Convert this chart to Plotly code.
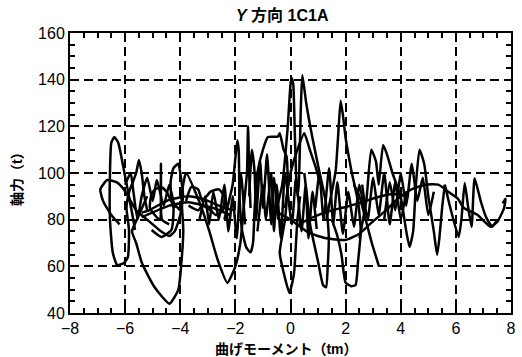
import plotly.graph_objects as go

# ---- data ----
loop_a_x = [-6.2, -6.5, -6.8, -6.9, -6.65, -6.3, -6.05, -5.8, -5.6, -5.3, -5.0, -4.7, -4.4, -4.2, -4.0, -3.9, -4.0, -4.07, -4.25, -4.35, -4.3, -4.0]
loop_a_y = [78, 82, 88, 93, 97, 96, 93, 88, 84, 81, 78, 75, 73, 75, 82, 90, 100, 104, 102, 96, 88, 84]

loop_b_x = [-5.64, -5.75, -6.04, -6.25, -6.39, -6.5, -6.55, -6.55, -6.45, -6.29, -6.04, -5.9, -5.86, -5.95, -5.85, -5.6, -5.5, -5.4, -5.3, -5.2]
loop_b_y = [75.6, 83, 101, 113, 115.4, 113, 100, 80, 66, 60.6, 61.4, 64, 75.6, 85, 92, 100, 105.6, 100, 90, 84]

loop_c_x = [-5.2, -5.5, -5.75, -5.6, -5.39, -4.93, -4.39, -4.07, -3.96, -3.89, -3.95, -3.79, -3.32, -2.96, -2.64, -2.29, -2.0, -1.82, -1.7, -1.58, -1.54, -1.5, -1.45]
loop_c_y = [90, 82, 75, 70, 61.4, 51, 44, 50, 61.4, 75.6, 90, 100, 88, 75.6, 62.7, 52.9, 60, 70, 85, 100, 120, 100, 85]

loop_d_x = [-5.04, -4.68, -4.32, -4.25, -4.5, -4.68, -4.9, -5.04, -5.1, -4.75, -4.7, -4.66, -4.4]
loop_d_y = [75.6, 72.6, 75.6, 85.4, 92, 94, 93, 91, 85, 80, 104, 80, 78]

arch_e1_x = [-5.4, -5.14, -4.43, -3.71, -3.2, -2.79, -2.4, -2.0]
arch_e1_y = [83, 84, 88.4, 90, 89, 87, 85, 84]
arch_e2_x = [-5.4, -4.4, -3.7, -2.8, -2.2]
arch_e2_y = [81, 86, 87.5, 85, 82]

loop_q_x = [-3.79, -3.6, -3.35, -3.2, -2.9, -2.6, -2.4, -2.45, -2.7, -2.9, -3.2, -3.35, -3.7]
loop_q_y = [88, 94, 93, 88, 92, 93, 90, 84, 82, 84, 86, 84, 86]

loop_f_x = [-2.4, -2.1, -1.93, -1.88, -1.85, -1.75, -1.6, -1.45, -1.36, -1.3, -1.2, -1.0, -0.82, -0.46, -0.39, -0.25, -0.14, -0.1, -0.2, -0.36, -0.39, -0.2, -0.04, 0.1, 0.14, 0.25, 0.35]
loop_f_y = [80, 95, 114, 110, 90, 75, 68, 66, 70, 85, 100, 110, 115.4, 115.6, 117, 110, 107, 95, 80, 69, 65.7, 55, 48.6, 55, 58.4, 79.8, 90]

loop_g_x = [-0.6, -0.3, -0.1, 0.0, 0.04, 0.1, 0.15, 0.2, 0.25, 0.3, 0.38, 0.43, 0.57, 0.79, 1.04, 1.29, 1.39, 1.35, 1.29, 1.18, 1.0, 0.85, 0.71, 0.6, 0.5]
loop_g_y = [80, 95, 120, 138, 140.7, 138, 120, 100, 90, 95, 130, 142, 130, 115.4, 101, 87, 72.6, 60, 51, 52, 62, 70, 78, 90, 100]

peak_h_x = [-0.2, 0.0, 0.25, 0.5, 0.7, 0.9, 1.1]
peak_h_y = [85, 100, 110, 117, 110, 103, 95]

loop_i_x = [1.3, 1.5, 1.64, 1.75, 1.82, 1.9, 2.0, 2.21, 2.46, 2.55, 2.45, 2.36, 2.2, 2.0, 1.85, 1.7, 1.5]
loop_i_y = [80, 92, 101, 120, 131, 125, 115, 101, 87, 75, 62, 52, 51.5, 53, 65, 73, 80]

loop_j_x = [2.5, 2.75, 2.93, 3.1, 3.2, 3.36, 3.5, 3.7, 4.0, 4.2, 4.32, 4.45, 4.55, 4.68, 4.85, 5.0, 5.2, 5.32, 5.4, 5.5, 5.6]
loop_j_y = [72, 88, 110, 105, 95, 112, 108, 100, 89.7, 75, 68.3, 75, 95, 110, 104, 90, 75, 64.9, 72, 85, 95]

line_k_x = [2.3, 2.5, 2.75, 2.95, 3.21]
line_k_y = [95, 90, 79, 70, 60]

bowl_l_x = [-0.6, 0.0, 0.68, 1.3, 2.0, 2.5, 2.93, 3.46, 3.9, 4.39, 4.9, 5.36, 5.79, 6.07, 6.29, 6.79, 7.25, 7.5, 7.75, 7.8, 7.7]
bowl_l_y = [84, 80, 74.3, 72, 71.3, 74, 78.6, 84, 89, 93, 95, 95, 91.4, 89, 85, 82, 77, 79, 85, 89, 87]

arc_m_x = [0.3, 0.8, 1.5, 2.0, 2.6, 3.18, 3.7, 4.3]
arc_m_y = [78, 81, 84, 85.4, 87.5, 89.7, 91, 90]

loop_n_x = [5.6, 5.8, 6.1, 6.2, 6.32, 6.45, 6.57, 6.68, 6.9, 7.1, 7.32, 7.5]
loop_n_y = [95, 85, 72.6, 80, 95.7, 85, 77, 97.8, 88, 81, 77, 80]

zig_o_x = [-1.2, -1.0, -0.9, -0.7, -0.6, -0.5, -0.35, -0.2, 0.05, 0.2, 0.4, 0.55, 0.65, 0.8, 0.95]
zig_o_y = [75, 95, 80, 100, 75, 95, 72, 100, 78, 98, 75, 95, 72, 92, 76]

zig_p_x = [2.6, 2.8, 3.0, 3.2, 3.4, 3.6, 3.8, 4.0, 4.2]
zig_p_y = [95, 80, 98, 82, 100, 78, 96, 80, 92]

zig_r_x = [-6.0, -5.8, -5.7, -5.55, -5.4, -5.2, -5.0, -4.85, -4.6, -4.4, -4.2]
zig_r_y = [95, 100, 92, 80, 90, 98, 88, 97, 86, 95, 85]

zig_s_x = [-3.3, -3.1, -2.95, -2.8, -2.6, -2.4, -2.25, -2.1, -1.95, -1.8, -1.65]
zig_s_y = [80, 90, 78, 92, 80, 95, 75, 90, 72, 100, 78]

zig_t_x = [-1.5, -1.4, -1.3, -1.25, -1.1, -1.0, -0.85, -0.7, -0.6, -0.45]
zig_t_y = [90, 110, 100, 80, 105, 85, 108, 78, 98, 80]

zig_u_x = [0.9, 1.05, 1.2, 1.4, 1.55, 1.7, 1.9, 2.1, 2.3, 2.5, 2.7]
zig_u_y = [85, 100, 80, 102, 78, 96, 74, 92, 77, 95, 82]

zig_v_x = [3.4, 3.6, 3.8, 4.0, 4.2, 4.4, 4.6, 4.8, 5.0, 5.2]
zig_v_y = [80, 96, 84, 100, 86, 104, 88, 98, 82, 92]

series = [
    (loop_a_x, loop_a_y), (loop_b_x, loop_b_y), (loop_c_x, loop_c_y),
    (loop_d_x, loop_d_y), (arch_e1_x, arch_e1_y), (arch_e2_x, arch_e2_y),
    (loop_q_x, loop_q_y), (loop_f_x, loop_f_y), (loop_g_x, loop_g_y),
    (peak_h_x, peak_h_y), (loop_i_x, loop_i_y), (loop_j_x, loop_j_y),
    (line_k_x, line_k_y), (bowl_l_x, bowl_l_y), (arc_m_x, arc_m_y),
    (loop_n_x, loop_n_y), (zig_o_x, zig_o_y), (zig_p_x, zig_p_y),
    (zig_r_x, zig_r_y), (zig_s_x, zig_s_y), (zig_t_x, zig_t_y),
    (zig_u_x, zig_u_y), (zig_v_x, zig_v_y),
]

x_ticks = [-8, -6, -4, -2, 0, 2, 4, 6, 8]
y_ticks = [40, 60, 80, 100, 120, 140, 160]

fig = go.Figure()
for sx, sy in series:
    fig.add_trace(go.Scatter(
        x=sx, y=sy, mode="lines",
        line=dict(color="black", width=2.5, shape="spline", smoothing=0.5),
        showlegend=False, hoverinfo="skip",
    ))

axis_common = dict(
    showline=True, linecolor="black", linewidth=2, mirror="ticks",
    ticks="inside", ticklen=6, tickwidth=1.5, tickcolor="black",
    showgrid=True, gridcolor="black", gridwidth=1.8, griddash="9px,5px",
    zeroline=False,
    tickfont=dict(family="Liberation Sans, Arial, sans-serif", size=16, color="black"),
)

fig.update_xaxes(range=[-8, 8], tickvals=x_ticks,
                 minor=dict(dtick=0.5, ticks="inside", ticklen=5, tickwidth=1.5,
                            tickcolor="black", showgrid=False),
                 **axis_common)
fig.update_yaxes(range=[40, 160], tickvals=y_ticks,
                 minor=dict(dtick=5, ticks="inside", ticklen=5, tickwidth=1.5,
                            tickcolor="black", showgrid=False),
                 **axis_common)

jp = "Liberation Sans, Noto Sans CJK JP, sans-serif"
fig.update_layout(
    width=522, height=357,
    margin=dict(l=70, r=6, t=33, b=44),
    paper_bgcolor="white", plot_bgcolor="white",
    annotations=[
        dict(text="<b><i>Y</i> 方向 1C1A</b>", xref="paper", yref="paper",
             x=0.482, y=1.064, xanchor="center", yanchor="middle", showarrow=False,
             font=dict(family=jp, size=16, color="black")),
        dict(text="<b>曲げモーメント（tm）</b>", xref="paper", yref="paper",
             x=0.49, y=-0.128, xanchor="center", yanchor="middle", showarrow=False,
             font=dict(family=jp, size=14, color="black")),
        dict(text="<b>軸力（t）</b>", xref="paper", yref="paper",
             x=-0.12, y=0.49, xanchor="center", yanchor="middle", showarrow=False,
             textangle=-90, font=dict(family=jp, size=14, color="black")),
    ],
)

fig.write_html("out.html")
